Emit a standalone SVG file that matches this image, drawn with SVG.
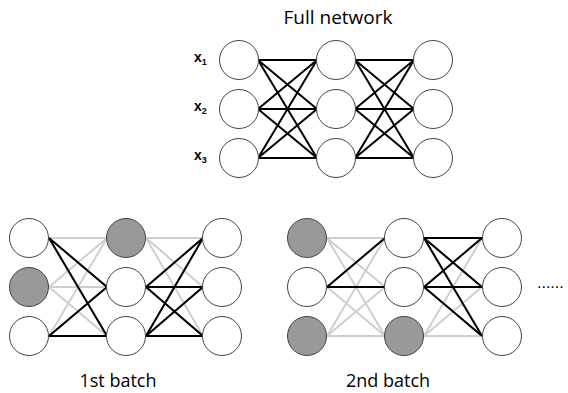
<svg xmlns="http://www.w3.org/2000/svg" width="568" height="393" viewBox="0 0 568 393">
  <style>
    .node { fill: #ffffff; stroke: #444444; stroke-width: 1; }
    .drop { fill: #999999; stroke: #444444; stroke-width: 1; }
    .on { stroke: #000000; stroke-width: 2; fill: none; }
    .off { stroke: #cfcfcf; stroke-width: 2; fill: none; }
    .title { font-family: "Open Sans", "Liberation Sans", sans-serif; font-size: 19px; fill: #000000; text-anchor: middle; }
    .cap { font-family: "Open Sans", "Liberation Sans", sans-serif; font-size: 18px; fill: #000000; text-anchor: middle; }
    .lbl { font-family: "Liberation Sans", sans-serif; font-size: 14px; font-weight: bold; fill: #000000; }
    .sub { font-size: 9px; }
  </style>
  <rect width="568" height="393" fill="#ffffff"/>

  <!-- Full network -->
  <text class="title" x="338" y="24">Full network</text>
  <text class="lbl" x="194" y="62">x<tspan class="sub" dy="3">1</tspan></text>
  <text class="lbl" x="194" y="111">x<tspan class="sub" dy="3">2</tspan></text>
  <text class="lbl" x="194" y="160">x<tspan class="sub" dy="3">3</tspan></text>

  <g id="full-connectors">
    <path class="on" d="M258,60L317,60M258,60L317,109M258,60L317,158M258,109L317,60M258,109L317,109M258,109L317,158M258,158L317,60M258,158L317,109M258,158L317,158"/>
    <path class="on" d="M355,60L414,60M355,60L414,109M355,60L414,158M355,109L414,60M355,109L414,109M355,109L414,158M355,158L414,60M355,158L414,109M355,158L414,158"/>
  </g>
  <g id="full-l1-n1"><circle class="node" cx="239" cy="60" r="19.5"/></g>
  <g id="full-l1-n2"><circle class="node" cx="239" cy="109" r="19.5"/></g>
  <g id="full-l1-n3"><circle class="node" cx="239" cy="158" r="19.5"/></g>
  <g id="full-l2-n1"><circle class="node" cx="336" cy="60" r="19.5"/></g>
  <g id="full-l2-n2"><circle class="node" cx="336" cy="109" r="19.5"/></g>
  <g id="full-l2-n3"><circle class="node" cx="336" cy="158" r="19.5"/></g>
  <g id="full-l3-n1"><circle class="node" cx="433" cy="60" r="19.5"/></g>
  <g id="full-l3-n2"><circle class="node" cx="433" cy="109" r="19.5"/></g>
  <g id="full-l3-n3"><circle class="node" cx="433" cy="158" r="19.5"/></g>

  <!-- 1st batch -->
  <g id="b1-connectors">
    <path class="off" d="M49,238L107,238M49,238L107,287M49,238L107,336M49,287L107,238M49,287L107,287M49,287L107,336M49,336L107,238M49,336L107,287M49,336L107,336"/>
    <path class="off" d="M146,238L203,238M146,238L203,287M146,238L203,336M146,287L203,238M146,287L203,287M146,287L203,336M146,336L203,238M146,336L203,287M146,336L203,336"/>
    <path class="on" d="M49,238L107,287M49,238L107,336M49,336L107,287M49,336L107,336"/>
    <path class="on" d="M146,287L203,238M146,287L203,287M146,287L203,336M146,336L203,238M146,336L203,287M146,336L203,336"/>
  </g>
  <g id="b1-l1-n1"><circle class="node" cx="29" cy="238" r="19.5"/></g>
  <g id="b1-l1-n2"><circle class="drop" cx="29" cy="287" r="19.5"/></g>
  <g id="b1-l1-n3"><circle class="node" cx="29" cy="336" r="19.5"/></g>
  <g id="b1-l2-n1"><circle class="drop" cx="126" cy="238" r="19.5"/></g>
  <g id="b1-l2-n2"><circle class="node" cx="126" cy="287" r="19.5"/></g>
  <g id="b1-l2-n3"><circle class="node" cx="126" cy="336" r="19.5"/></g>
  <g id="b1-l3-n1"><circle class="node" cx="222" cy="238" r="19.5"/></g>
  <g id="b1-l3-n2"><circle class="node" cx="222" cy="287" r="19.5"/></g>
  <g id="b1-l3-n3"><circle class="node" cx="222" cy="336" r="19.5"/></g>
  <text class="cap" x="118" y="387">1st batch</text>

  <!-- 2nd batch -->
  <g id="b2-connectors">
    <path class="off" d="M327,238L385,238M327,238L385,287M327,238L385,336M327,287L385,238M327,287L385,287M327,287L385,336M327,336L385,238M327,336L385,287M327,336L385,336"/>
    <path class="off" d="M424,238L482,238M424,238L482,287M424,238L482,336M424,287L482,238M424,287L482,287M424,287L482,336M424,336L482,238M424,336L482,287M424,336L482,336"/>
    <path class="on" d="M327,287L385,238M327,287L385,287"/>
    <path class="on" d="M424,238L482,238M424,238L482,287M424,238L482,336M424,287L482,238M424,287L482,287M424,287L482,336"/>
  </g>
  <g id="b2-l1-n1"><circle class="drop" cx="307" cy="238" r="19.5"/></g>
  <g id="b2-l1-n2"><circle class="node" cx="307" cy="287" r="19.5"/></g>
  <g id="b2-l1-n3"><circle class="drop" cx="307" cy="336" r="19.5"/></g>
  <g id="b2-l2-n1"><circle class="node" cx="404" cy="238" r="19.5"/></g>
  <g id="b2-l2-n2"><circle class="node" cx="404" cy="287" r="19.5"/></g>
  <g id="b2-l2-n3"><circle class="drop" cx="404" cy="336" r="19.5"/></g>
  <g id="b2-l3-n1"><circle class="node" cx="502" cy="238" r="19.5"/></g>
  <g id="b2-l3-n2"><circle class="node" cx="502" cy="287" r="19.5"/></g>
  <g id="b2-l3-n3"><circle class="node" cx="502" cy="336" r="19.5"/></g>
  <text class="cap" x="388" y="387">2nd batch</text>

  <text x="537" y="288" font-family="Liberation Sans, sans-serif" font-size="16" fill="#000000">......</text>
</svg>
